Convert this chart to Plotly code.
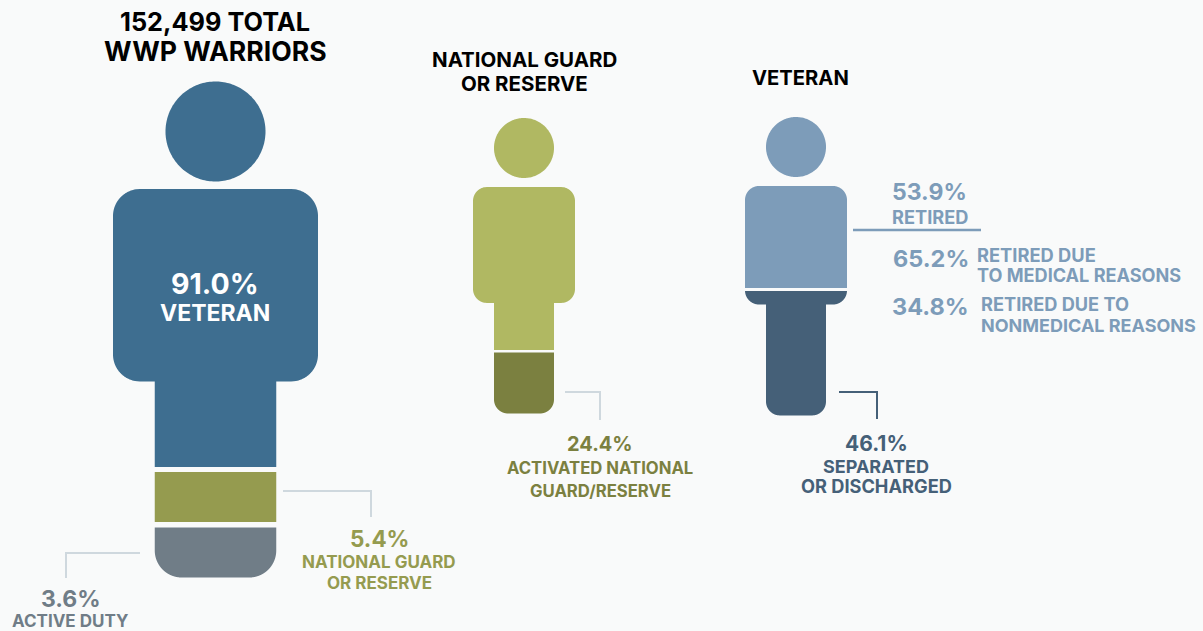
import numpy as np
import plotly.graph_objects as go

# ---- chart content ----
total_title = ["152,499 TOTAL", "WWP WARRIORS"]
guard_title = ["NATIONAL GUARD", "OR RESERVE"]
veteran_title = ["VETERAN"]
all_values = [91.0, 5.4, 3.6]
all_labels = [["VETERAN"], ["NATIONAL GUARD", "OR RESERVE"], ["ACTIVE DUTY"]]
guard_values = [24.4]
guard_labels = [["ACTIVATED NATIONAL", "GUARD/RESERVE"]]
veteran_values = [53.9, 46.1]
veteran_labels = [["RETIRED"], ["SEPARATED", "OR DISCHARGED"]]
retired_values = [65.2, 34.8]
retired_labels = [["RETIRED DUE", "TO MEDICAL REASONS"], ["RETIRED DUE TO", "NONMEDICAL REASONS"]]

# ---- palette ----
BG = "#f9fafa"
BLUE, OLIVE, SLATE = "#3e6e90", "#959b4f", "#707d87"
L_OLIVE, D_OLIVE = "#b0b862", "#7b8040"
STEEL, D_STEEL = "#7d9cb9", "#456078"
RULE = "#cfd8de"
FONT = "Inter"


def pct(v):
    return f"{v:.1f}%"


def arc(cx, cy, r, a0, a1, n=48):
    t = np.radians(np.linspace(a0, a1, n))
    return list(cx + r * np.cos(t)), list(cy + r * np.sin(t))


def person_outline(cx, body_w, leg_w, top, shoulder, bottom, r_b, r_l):
    """Closed outline of the body + legs (screen y points down)."""
    bl, br = cx - body_w / 2, cx + body_w / 2
    ll, lr = cx - leg_w / 2, cx + leg_w / 2
    xs, ys = [], []
    for c in [(bl + r_b, top + r_b, 180, 270), (br - r_b, top + r_b, 270, 360),
              (br - r_b, shoulder - r_b, 0, 90)]:
        a, b = arc(c[0], c[1], r_b, c[2], c[3]); xs += a; ys += b
    xs += [lr, lr]; ys += [shoulder, bottom - r_l]
    a, b = arc(lr - r_l, bottom - r_l, r_l, 0, 90); xs += a; ys += b
    a, b = arc(ll + r_l, bottom - r_l, r_l, 90, 180); xs += a; ys += b
    xs += [ll, ll]; ys += [shoulder, shoulder]
    a, b = arc(bl + r_b, shoulder - r_b, r_b, 90, 180); xs += a; ys += b
    xs.append(xs[0]); ys.append(ys[0])
    return np.array(xs), np.array(ys)


def clip_band(xs, ys, y0, y1, shoulder, n=900):
    """Slice the outline into the horizontal band y0..y1."""
    yy = np.linspace(y0, y1, n)
    if y0 < shoulder < y1:
        yy = np.sort(np.concatenate([yy, [shoulder - 1e-3, shoulder + 1e-3]]))
    left, right = [], []
    m = len(xs) - 1
    for y in yy:
        hits = []
        for i in range(m):
            a, b = ys[i], ys[i + 1]
            if a == b:
                continue
            if min(a, b) <= y <= max(a, b):
                hits.append(xs[i] + (y - a) / (b - a) * (xs[i + 1] - xs[i]))
        left.append(min(hits)); right.append(max(hits))
    return left + right[::-1] + left[:1], list(yy) + list(yy[::-1]) + [yy[0]]


fig = go.Figure()


def fill(x, y, color):
    fig.add_trace(go.Scatter(x=x, y=y, mode="lines", fill="toself", fillcolor=color,
                             line=dict(width=0, color=color, simplify=False),
                             hoverinfo="skip", showlegend=False))


def person(cx, head_y, head_r, body_w, leg_w, top, shoulder, bottom, r_b, r_l, bands):
    a, b = arc(cx, head_y, head_r, 0, 360, 180)
    fill(a, b, bands[0][2])
    xs, ys = person_outline(cx, body_w, leg_w, top, shoulder, bottom, r_b, r_l)
    for y0, y1, col in bands:
        bx, by = clip_band(xs, ys, y0 + 1e-3, y1 - 1e-3, shoulder)
        fill(bx, by, col)


def rule(x, y, color, w=2):
    fig.add_trace(go.Scatter(x=x, y=y, mode="lines", line=dict(color=color, width=w),
                             hoverinfo="skip", showlegend=False))


annots = []


def text(x, y, s, size, color, anchor="center"):
    annots.append(dict(x=x, y=y, text=f"<b>{s}</b>", xref="x", yref="y", showarrow=False,
                       xanchor=anchor, yanchor="middle", align=anchor,
                       font=dict(family=FONT, size=size, color=color)))


# people
person(215.5, 131.5, 50, 205, 121.5, 189, 381.5, 577.5, 27, 27,
       [(189, 467, BLUE), (472, 522, OLIVE), (527.5, 577.5, SLATE)])
person(524, 148, 30, 102, 60, 187, 303, 413.5, 14, 14,
       [(187, 350, L_OLIVE), (352.5, 413.5, D_OLIVE)])
person(796, 147, 30, 102, 60, 186, 304.5, 415.5, 14, 14,
       [(186, 288, STEEL), (291, 415.5, D_STEEL)])

# connectors
rule([283, 371, 371], [491, 491, 517], RULE)
rule([140, 66, 66], [553, 553, 578], RULE)
rule([565, 600, 600], [392, 392, 420], RULE)
rule([839, 877, 877], [392, 392, 419], D_STEEL)
rule([853, 981], [230, 230], STEEL, 2.5)

# titles
text(215, 21, total_title[0], 25.3, "#000000")
text(215, 51, total_title[1], 26.6, "#000000")
text(524, 59, guard_title[0], 20.5, "#000000")
text(524, 83, guard_title[1], 20.5, "#000000")
text(800.5, 77, veteran_title[0], 20.2, "#000000")

# big figure labels
text(215, 283, pct(all_values[0]), 28.5, "#ffffff")
text(215, 313, all_labels[0][0], 23, "#ffffff")
text(379, 538, pct(all_values[1]), 22.5, OLIVE)
text(379, 562, all_labels[1][0], 17, OLIVE)
text(379, 583, all_labels[1][1], 17, OLIVE)
text(71, 599, pct(all_values[2]), 23, SLATE)
text(70, 620.5, all_labels[2][0], 17, SLATE)

# guard labels
text(600, 444, pct(guard_values[0]), 20, D_OLIVE)
text(600, 468, guard_labels[0][0], 16.7, D_OLIVE)
text(600, 491, guard_labels[0][1], 16.7, D_OLIVE)

# veteran labels
text(929.5, 192, pct(veteran_values[0]), 23, STEEL)
text(929.5, 216.5, veteran_labels[0][0], 18.2, STEEL)
text(876, 443, pct(veteran_values[1]), 21, D_STEEL)
text(876, 466, veteran_labels[1][0], 18, D_STEEL)
text(876, 486, veteran_labels[1][1], 18.2, D_STEEL)

# retired breakdown
text(930.5, 258, pct(retired_values[0]), 23.5, STEEL)
text(975, 255, retired_labels[0][0], 18.3, STEEL, "left")
text(975, 275, retired_labels[0][1], 18.1, STEEL, "left")
text(930.5, 306, pct(retired_values[1]), 23.5, STEEL)
text(979, 304, retired_labels[1][0], 18.2, STEEL, "left")
text(979, 325, retired_labels[1][1], 18, STEEL, "left")

fig.update_layout(
    width=1203, height=631, margin=dict(l=0, r=0, t=0, b=0),
    paper_bgcolor=BG, plot_bgcolor=BG, showlegend=False, annotations=annots,
    xaxis=dict(range=[0, 1203], visible=False, fixedrange=True),
    yaxis=dict(range=[631, 0], visible=False, fixedrange=True),
)
fig.write_html("out.html", config={"displayModeBar": False},
               post_script="document.body.style.margin='0';document.body.style.background='%s';" % BG)
